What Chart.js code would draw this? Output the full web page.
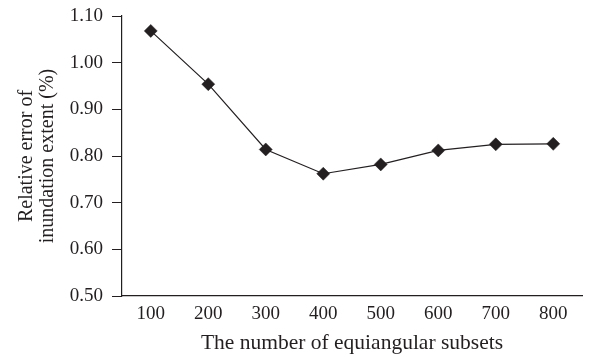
<!DOCTYPE html>
<html>
<head>
<meta charset="utf-8">
<script src="https://cdn.jsdelivr.net/npm/chart.js@4.4.1/dist/chart.umd.min.js"></script>
<style>
  html, body { margin: 0; padding: 0; background: #ffffff; }
  #wrap { width: 589px; height: 357px; position: relative; }
</style>
</head>
<body>
<div id="wrap"><canvas id="c" width="589" height="357"></canvas></div>
<script>
const categories = ['100', '200', '300', '400', '500', '600', '700', '800'];
const errorValues = [1.068, 0.954, 0.814, 0.762, 0.782, 0.812, 0.825, 0.826];
const yTicks = [0.50, 0.60, 0.70, 0.80, 0.90, 1.00, 1.10];
const xTitle = 'The number of equiangular subsets';
const yTitle = ['Relative error of', 'inundation extent (%)'];

const ink = '#231f20';
const fontFamily = '"Liberation Serif", "DejaVu Serif", serif';

new Chart(document.getElementById('c'), {
  type: 'line',
  data: {
    labels: categories,
    datasets: [{
      data: errorValues,
      borderColor: ink,
      borderWidth: 1.2,
      backgroundColor: ink,
      pointStyle: 'rectRot',
      pointRadius: 6.5,
      pointBorderWidth: 0.5,
      pointBorderColor: ink,
      pointBackgroundColor: ink,
      tension: 0,
      fill: false
    }]
  },
  options: {
    responsive: false,
    animation: false,
    devicePixelRatio: 1,
    layout: { padding: { top: 16, right: 1, left: 0, bottom: 0 } },
    plugins: { legend: { display: false }, tooltip: { enabled: false } },
    scales: {
      x: {
        type: 'category',
        offset: true,
        grid: { display: false, drawTicks: false },
        border: { display: true, color: ink, width: 1.2 },
        ticks: { color: ink, font: { family: fontFamily, size: 19 }, padding: 7 },
        title: {
          display: true, text: xTitle, color: ink,
          font: { family: fontFamily, size: 21.5 }, padding: { top: 2, bottom: 1 }
        },
        afterFit: (scale) => { scale.height = 61; scale.paddingLeft = 0; scale.paddingRight = 0; }
      },
      y: {
        min: 0.5, max: 1.1,
        afterBuildTicks: (scale) => { scale.ticks = yTicks.map(v => ({ value: v })); },
        grid: { drawOnChartArea: false, drawTicks: true, tickLength: 10, color: ink, lineWidth: 1 },
        border: { display: true, color: ink, width: 1.2 },
        ticks: {
          color: ink, font: { family: fontFamily, size: 19 }, padding: 9,
          callback: (v) => Number(v).toFixed(2)
        },
        title: {
          display: true, text: yTitle, color: ink,
          font: { family: fontFamily, size: 20, lineHeight: 1.05 }, padding: { top: 16, bottom: 0 }
        },
        afterFit: (scale) => { scale.width = 122; scale.paddingTop = 0; scale.paddingBottom = 0; }
      }
    }
  }
});
</script>
</body>
</html>
